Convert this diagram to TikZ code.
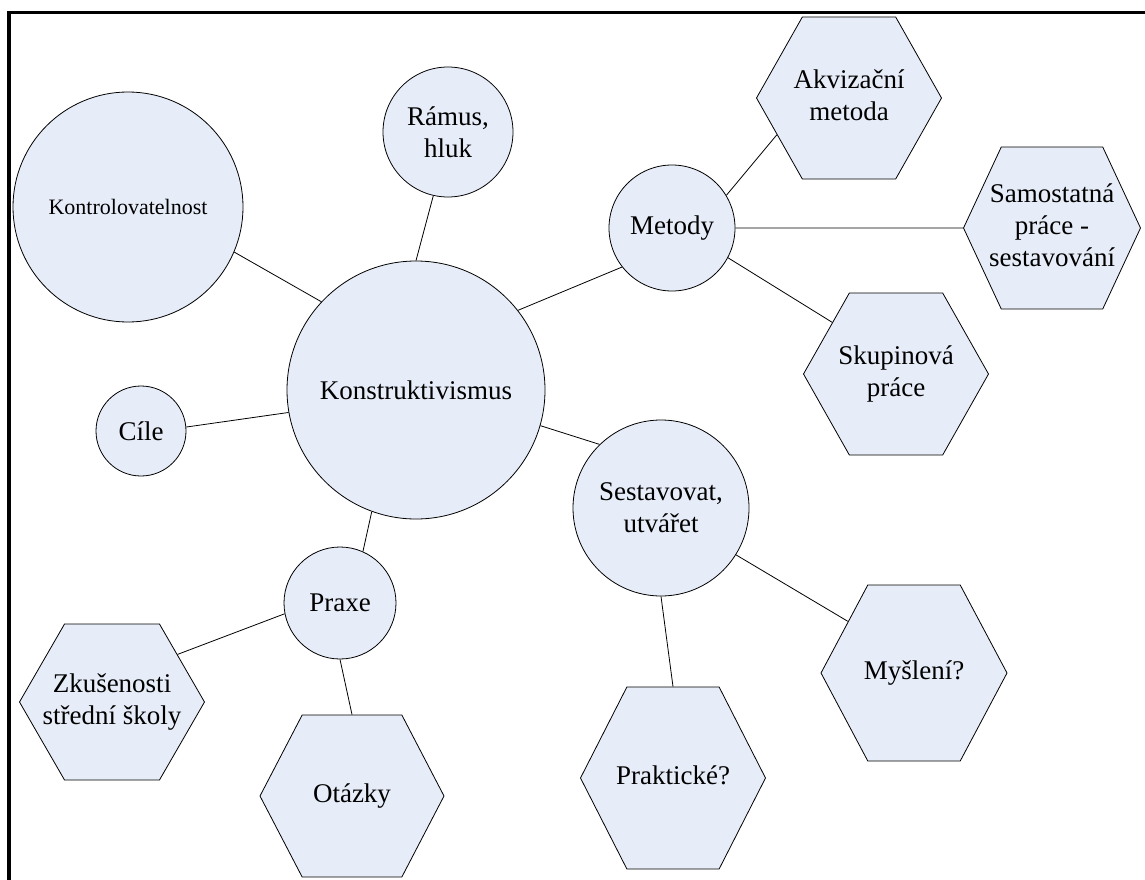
\documentclass[tikz,border=0pt]{standalone}
\usepackage{fontspec}
\setmainfont{Liberation Serif}
\usetikzlibrary{shapes.symbols}
\definecolor{nodefill}{RGB}{231,237,248}
\newcommand{\hexlabel}[1]{\makebox[0pt]{\begin{tabular}{@{}c@{}}#1\end{tabular}}}

\begin{document}
\begin{tikzpicture}[x=1pt,y=-1pt]
      \useasboundingbox (0,0) rectangle (1145,880);
      \tikzset{C/.style = {shape=circle, draw, fill=nodefill, inner sep=0pt, align=center, line width=0.8pt, font=\fontsize{27}{32}\selectfont}}
      \tikzset{H/.style = {shape=signal, signal to=west and east, draw, fill=nodefill, inner sep=0pt, line width=0.8pt, font=\fontsize{27}{32}\selectfont}}
      \tikzset{E/.style = {draw, line width=0.8pt}}
      % frame
      \draw[line width=3.5pt] (9,880) -- (9,12.5) -- (1145,12.5);
      % circles
      \node[C, minimum size=258pt](kon) at (416,390) {Konstruktivismus};
      \node[C, minimum size=230pt, font=\fontsize{22}{26}\selectfont](kontr) at (128,207) {Kontrolovatelnost};
      \node[C, minimum size=130pt](ram) at (448,132) {Rámus,\\hluk};
      \node[C, minimum size=126pt](met) at (672,228) {Metody};
      \node[C, minimum size=90pt](cil) at (141,431) {Cíle};
      \node[C, minimum size=176pt](ses) at (661,508) {Sestavovat,\\utvářet};
      \node[C, minimum size=112pt](pra) at (340,603) {Praxe};
      % hexagons
      \node[H, minimum width=185pt, minimum height=162pt, signal pointer angle=121](akv) at (849,98) {\hexlabel{Akvizační\\metoda}};
      \node[H, minimum width=177pt, minimum height=162pt, signal pointer angle=130](sam) at (1052,228) {\hexlabel{Samostatná\\práce -\\sestavování}};
      \node[H, minimum width=185pt, minimum height=162pt, signal pointer angle=121](sku) at (896,374) {\hexlabel{Skupinová\\práce}};
      \node[H, minimum width=186pt, minimum height=176pt, signal pointer angle=124](mys) at (914,673) {\hexlabel{Myšlení?}};
      \node[H, minimum width=185pt, minimum height=182pt, signal pointer angle=126](prk) at (673,778) {\hexlabel{Praktické?}};
      \node[H, minimum width=185pt, minimum height=156pt, signal pointer angle=120](zku) at (112,702) {\hexlabel{Zkušenosti\\střední školy}};
      \node[H, minimum width=184pt, minimum height=162pt, signal pointer angle=125](ota) at (352,796) {\hexlabel{Otázky}};
      % connectors
      \draw[E](kon.90) to (ram.257);
      \draw[E](kon.137.5) to (kontr.337.6);
      \draw[E](kon.38) to (met.218.5);
      \draw[E](kon.190) to (cil.5);
      \draw[E](kon.344.5) to (ses.134);
      \draw[E](kon.250.7) to (pra.66.7);
      \draw[E](met.31) to (akv.207);
      \draw[E](met.0) to (sam.180);
      \draw[E](met.332) to (sku.141.5);
      \draw[E](ses.328.7) to (mys.142);
      \draw[E](ses.270) to (prk.90);
      \draw[E](pra.191) to (zku.36);
      \draw[E](pra.270) to (ota.90);
\end{tikzpicture}
\end{document}
